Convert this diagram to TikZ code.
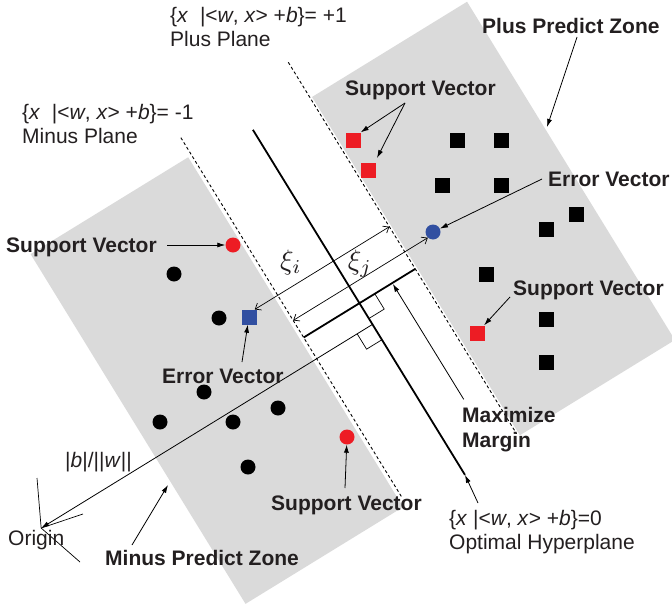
\documentclass[tikz,border=0pt]{standalone}
\usepackage{fontspec}
\setmainfont{Liberation Sans}
\usetikzlibrary{arrows.meta}
\definecolor{txt}{RGB}{35,31,32}
\definecolor{zone}{RGB}{218,218,218}
\definecolor{svred}{RGB}{237,28,36}
\definecolor{evblue}{RGB}{49,79,161}
\begin{document}
\begin{tikzpicture}[x=1pt,y=-1pt,
  lab/.style={font=\fontsize{21}{24}\selectfont, text=txt, inner sep=0pt, anchor=base west},
  blab/.style={lab, font=\fontsize{21}{24}\selectfont\bfseries},
  blksq/.style={rectangle, minimum size=15pt, inner sep=0pt, fill=black},
  blkdot/.style={circle, minimum size=15pt, inner sep=0pt, fill=black},
  redsq/.style={blksq, fill=svred},
  reddot/.style={blkdot, fill=svred},
  bluesq/.style={blksq, fill=evblue},
  bluedot/.style={blkdot, fill=evblue},
  arr/.style={line width=0.8pt, -{Latex[length=8pt,width=5pt]}},
  xiarr/.style={line width=0.7pt, {Straight Barb[length=5pt,width=8pt]}-{Straight Barb[length=5pt,width=8pt]}},
  planeline/.style={line width=0.9pt, dash pattern=on 3pt off 2.5pt},
  thin line/.style={line width=0.7pt},
  xilab/.style={inner sep=0pt, text=txt}
]
\useasboundingbox (0,0) rectangle (672,613);
\clip (0,0) rectangle (672,613);

% rotated frame: first coordinate along the planes, second along the normal
\begin{scope}[x={(0.5236pt,-0.852pt)}, y={(0.852pt,0.5236pt)}]
  \fill[zone] (246,215) -- (246,397) -- (643,397) -- (643,215) -- cycle;
  \fill[zone] (232.5,-107) -- (232.5,78) -- (643,78) -- (643,-107) -- cycle;
  \coordinate (pT) at (204,213);   \coordinate (pB) at (640,213);
  \coordinate (mT) at (212,82);    \coordinate (mB) at (633,82);
  \coordinate (hT) at (243,147.5); \coordinate (hB) at (648,147.5);
  \coordinate (barM) at (446.5,82); \coordinate (barP) at (446.5,213);
  \coordinate (box1a) at (446.5,165.5); \coordinate (box1b) at (464.5,165.5); \coordinate (box1c) at (464.5,147.5);
  \coordinate (foot) at (471.4,147.5);
  \coordinate (orig) at (471.4,-241.4);
  \coordinate (box2a) at (471.4,129.5); \coordinate (box2b) at (489.4,129.5); \coordinate (box2c) at (489.4,147.5);
  \coordinate (xiP) at (397,213);  \coordinate (xiB) at (397,55);
  \coordinate (xjM) at (426.5,82); \coordinate (xjB) at (426.5,240);
  \coordinate (mmS) at (583,186);  \coordinate (mmT) at (447.6,186);
\end{scope}

% planes
\draw[planeline] (pT) -- (pB);
\draw[planeline] (mT) -- (mB);
\draw[line width=1.8pt] (hT) -- (hB);
\draw[line width=1.8pt] (barM) -- (barP);
\draw[thin line] (box1a) -- (box1b) -- (box1c);
\draw[thin line] (box2a) -- (box2b) -- (box2c);

% markers
\node[blksq] (p1) at (457,140) {};
\node[blksq] (p2) at (501,140) {};
\node[blksq] (p3) at (442,185) {};
\node[blksq] (p4) at (501,185) {};
\node[blksq] (p5) at (576,214) {};
\node[blksq] (p6) at (546,229) {};
\node[blksq] (p7) at (486,274) {};
\node[blksq] (p8) at (546,319) {};
\node[blksq] (p9) at (546,362) {};
\node[redsq] (rs1) at (353,140) {};
\node[redsq] (rs2) at (368,170) {};
\node[redsq] (rs3) at (477,333) {};
\node[bluedot] (bc) at (433,232) {};
\node[blkdot] (m1) at (174,274) {};
\node[blkdot] (m2) at (219,318) {};
\node[blkdot] (m3) at (204,392) {};
\node[blkdot] (m4) at (160,422) {};
\node[blkdot] (m5) at (233,422) {};
\node[blkdot] (m6) at (278,408) {};
\node[blkdot] (m7) at (248,467) {};
\node[reddot] (rc1) at (233,245) {};
\node[reddot] (rc2) at (347,437) {};
\node[bluesq] (bs) at (249,317) {};

% margin / slack arrows
\draw[xiarr] (xiB) -- (xiP);
\draw[xiarr] (xjM) -- (xjB);
\draw[arr] (mmS) -- (mmT);
\draw[arr] (foot) -- (orig);

% origin axes
\coordinate (axU) at (37,478);
\coordinate (axR) at (83,514);
\coordinate (axD) at (80,562);
\draw[thin line] (orig) -- (axU);
\draw[thin line] (orig) -- (axR);
\draw[thin line] (orig) -- (axD);

% labels
\node[lab] (plusEq) at (170,22) {\{\textit{x}\ \ |<\textit{w}, \textit{x}> +\textit{b}\}= +1};
\node[lab] (plusName) at (170,46) {Plus Plane};
\node[lab] (minusEq) at (22,119) {\{\textit{x}\ \ |<\textit{w}, \textit{x}> +\textit{b}\}= -1};
\node[lab] (minusName) at (22,143) {Minus Plane};
\node[blab] (ppz) at (482,33) {Plus Predict Zone};
\node[blab] (svTop) at (345,95) {Support Vector};
\node[blab] (evR) at (548,186) {Error Vector};
\node[blab] (svR) at (513,295) {Support Vector};
\node[blab] (svL) at (6,252) {Support Vector};
\node[blab] (evL) at (162,383) {Error Vector};
\node[blab] (mm1) at (462,422) {Maximize};
\node[blab] (mm2) at (462,447) {Margin};
\node[blab] (svB) at (271,510) {Support Vector};
\node[lab] (bw) at (65,467) {|\textit{b}|/||\textit{w}||};
\node[lab] (origin) at (8,545) {Origin};
\node[blab] (mpz) at (105,565) {Minus Predict Zone};
\node[lab] (ohEq) at (449,525) {\{\textit{x} |<\textit{w}, \textit{x}> +\textit{b}\}=0};
\node[lab] (ohName) at (449,549) {Optimal Hyperplane};
\node[xilab] (xii) at (291,262) {\scalebox{2.8}{$\xi_i$}};
\node[xilab] (xij) at (360,264) {\scalebox{2.8}{$\xi_j$}};

% label arrows
\coordinate (ppzS) at (577,37);  \coordinate (ppzT) at (547,127);
\draw[arr] (ppzS) -- (ppzT);
\coordinate (svTopS) at (405,103);
\coordinate (rs2T) at (377,158);
\draw[arr] (svTopS) -- (rs1.north east);
\draw[arr] (svTopS) -- (rs2T);
\coordinate (evRS) at (542,179);
\draw[arr] (evRS) -- (bc);
\coordinate (svRS) at (510,297);
\draw[arr] (svRS) -- (rs3);
\coordinate (svLS) at (167,245);
\draw[arr] (svLS) -- (rc1);
\coordinate (evLS) at (242,362);
\draw[arr] (evLS) -- (bs);
\coordinate (svBS) at (345,488);
\draw[arr] (svBS) -- (rc2);
\coordinate (mpzS) at (132,545); \coordinate (mpzT) at (168,485);
\draw[arr] (mpzS) -- (mpzT);
\coordinate (ohS) at (478,503);
\draw[arr] (ohS) -- (hB);
\end{tikzpicture}
\end{document}
